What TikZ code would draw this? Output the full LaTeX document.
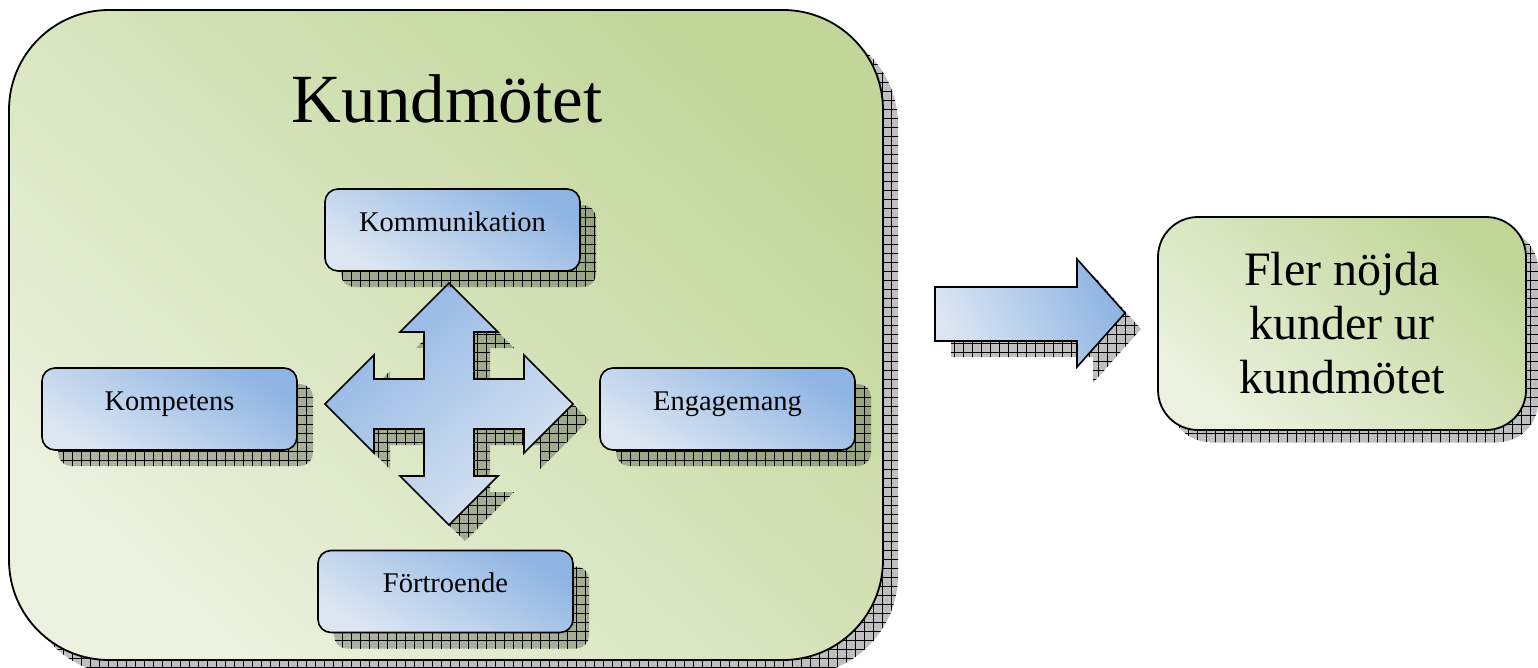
\documentclass[tikz,border=0pt]{standalone}
\usepackage{fontspec}
\setmainfont{Liberation Serif}
\usetikzlibrary{shadows,patterns,calc}
\definecolor{gdark}{HTML}{C2D69A}
\definecolor{glight}{HTML}{EBF1DE}
\definecolor{bdark}{HTML}{8EB4E3}
\definecolor{blight}{HTML}{DCE6F2}
\pgfdeclarepatternformonly{shgrid}{\pgfpoint{-1pt}{-1pt}}{\pgfpoint{10pt}{10pt}}{\pgfpoint{9pt}{9pt}}{%
  \pgfsetlinewidth{0.8pt}%
  \pgfpathmoveto{\pgfpoint{-1pt}{0pt}}\pgfpathlineto{\pgfpoint{10pt}{0pt}}%
  \pgfpathmoveto{\pgfpoint{0pt}{-1pt}}\pgfpathlineto{\pgfpoint{0pt}{10pt}}%
  \pgfusepath{stroke}}
\tikzset{
  gshadow/.style={
    general shadow={shadow xshift=#1, shadow yshift=-#1, fill=black, fill opacity=.25},
    general shadow={shadow xshift=#1, shadow yshift=-#1,
      pattern=shgrid, pattern color=black, fill opacity=.12}},
  bigbox/.style={draw=black, line width=1.8pt, rounded corners=100pt, minimum width=874pt,
    minimum height=650pt, inner sep=0pt, left color=glight, right color=gdark, shading angle=138, gshadow=15pt},
  smallbox/.style={draw=black, line width=1.6pt, rounded corners=13pt, minimum width=255pt,
    minimum height=82pt, inner sep=0pt, left color=blight, right color=bdark, shading angle=150, gshadow=16pt},
  rbox/.style={draw=black, line width=1.8pt, rounded corners=40pt, minimum width=368pt,
    minimum height=213pt, inner sep=0pt, left color=glight, right color=gdark, shading angle=140, gshadow=12pt,
    align=center, font=\fontsize{48}{54}\selectfont},
  lbl/.style={anchor=base, inner sep=0pt, font=\fontsize{28.5}{34}\selectfont},
  title/.style={anchor=base, inner sep=0pt, font=\fontsize{69}{80}\selectfont},
  blockarrow/.style={draw=black, line width=1.6pt, line join=miter, gshadow=16pt}
}
\begin{document}
\begin{tikzpicture}[x=1pt,y=-1pt]
\useasboundingbox (0,0) rectangle (1538,667);
% main box
\node[bigbox] (kund) at (446,335) {};
\node[title] (kt) at (447,122) {Kundmötet};
% cross arrow
\begin{scope}[shift={(449,404)}]
\path[blockarrow, left color=bdark, right color=blight, shading angle=40]
  (0,-121) -- (49,-72) -- (25,-72) -- (25,-25) -- (75,-25) -- (75,-49) -- (124,0)
  -- (75,49) -- (75,25) -- (25,25) -- (25,72) -- (49,72) -- (0,121) -- (-49,72)
  -- (-25,72) -- (-25,25) -- (-75,25) -- (-75,49) -- (-124,0) -- (-75,-49)
  -- (-75,-25) -- (-25,-25) -- (-25,-72) -- (-49,-72) -- cycle;
\end{scope}
% small boxes
\node[smallbox] (komm) at (452.5,230) {};
\node[smallbox] (komp) at (169.5,409) {};
\node[smallbox] (eng) at (727.5,409) {};
\node[smallbox] (fort) at (445.5,591.5) {};
\node[lbl] (kommt) at ($(komm.center)+(0,1)$) {Kommunikation};
\node[lbl] (kompt) at ($(komp.center)+(0,1)$) {Kompetens};
\node[lbl] (engt) at ($(eng.center)+(0,1)$) {Engagemang};
\node[lbl] (fortt) at ($(fort.center)+(0,1)$) {Förtroende};
% right arrow
\path[blockarrow, left color=blight, right color=bdark, shading angle=115]
  (935,287) -- (1077,287) -- (1077,259) -- (1125,313) -- (1077,367) -- (1077,341) -- (935,341) -- cycle;
% result box
\node[rbox] (fler) at (1342,323.5) {Fler nöjda\\kunder ur\\kundmötet};
\end{tikzpicture}
\end{document}
